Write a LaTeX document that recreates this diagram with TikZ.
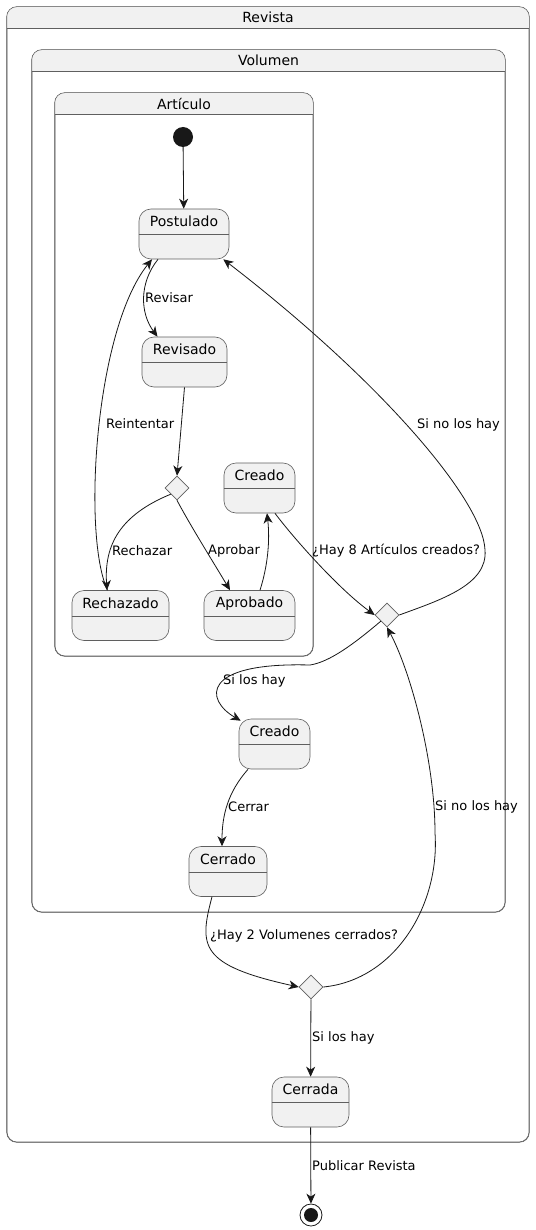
\documentclass[tikz,border=0pt]{standalone}
\usepackage{fontspec}
\setmainfont{DejaVu Sans}
\usepackage{tikz}
\usetikzlibrary{arrows.meta, positioning, shapes.geometric}
\definecolor{boxfill}{RGB}{241,241,241}
\definecolor{ink}{RGB}{24,24,24}
\definecolor{frame}{RGB}{95,95,95}
\tikzstyle{state}   = [rectangle, rounded corners=12pt, draw=frame, line width=0.6pt, fill=boxfill,
                       minimum height=50pt, inner sep=0pt]
\tikzstyle{sttitle} = [inner sep=0pt, font=\fontsize{14}{16}\selectfont]
\tikzstyle{stline}  = [draw=frame, line width=0.6pt]
\tikzstyle{comp}    = [rectangle, rounded corners=10pt, draw=frame, line width=0.6pt, fill=white, inner sep=0pt]
\tikzstyle{choice}  = [diamond, draw=frame, line width=0.6pt, fill=boxfill, minimum width=24pt,
                       minimum height=24pt, inner sep=0pt]
\tikzstyle{startst} = [circle, fill=ink, minimum size=20pt, inner sep=0pt]
\tikzstyle{endst}   = [circle, draw=ink, line width=0.8pt, fill=white, minimum size=22pt, inner sep=0pt,
                       path picture={\fill[ink] (path picture bounding box.center) circle (7pt);}]
\tikzstyle{lbl}     = [inner sep=1pt, font=\fontsize{13}{15}\selectfont]
\tikzstyle{arr}     = [-{Stealth[length=10pt, width=9pt, inset=3pt]}, line width=0.8pt, draw=ink]

% state box with title and empty lower part
\newcommand{\statenode}[4]{%
  \node[state, minimum width=#3] (#1) at (#2) {};
  \node[sttitle] (#1t) at ([yshift=-13pt]#1.north) {#4};
  \draw[stline] ([yshift=-26pt]#1.north west) -- ([yshift=-26pt]#1.north east);}

% composite state with grey header
\newcommand{\compnode}[5]{%
  \node[comp, minimum width=#3, minimum height=#4] (#1) at (#2) {};
  \begin{scope}
    \clip ([yshift=-22pt]#1.north west) rectangle ([yshift=2pt]#1.north east);
    \fill[boxfill, rounded corners=10pt] (#1.south west) rectangle (#1.north east);
  \end{scope}
  \draw[frame, line width=0.6pt, rounded corners=10pt] (#1.south west) rectangle (#1.north east);
  \draw[stline] ([yshift=-22pt]#1.north west) -- ([yshift=-22pt]#1.north east);
  \node[sttitle] (#1t) at ([yshift=-11pt]#1.north) {#5};}

\begin{document}
\begin{tikzpicture}[x=1pt, y=-1pt]
  \useasboundingbox (0,0) rectangle (535,1230);

  \compnode{revista}{268,574.5}{522pt}{1135pt}{Revista}
  \compnode{volumen}{268.5,481}{473pt}{862pt}{Volumen}
  \compnode{articulo}{184,374.5}{258pt}{563pt}{Artículo}

  \node[startst] (ini) at (183,137) {};
  \statenode{postulado}{184,234}{90pt}{Postulado}
  \statenode{revisado}{184.5,362}{85pt}{Revisado}
  \node[choice] (d1) at (177,488) {};
  \statenode{creado}{259.5,488}{71pt}{Creado}
  \statenode{rechazado}{120.5,615.5}{97pt}{Rechazado}
  \statenode{aprobado}{249.5,615.5}{91pt}{Aprobado}
  \node[choice] (d2) at (387,615) {};
  \statenode{creadoV}{274.5,744}{71pt}{Creado}
  \statenode{cerrado}{228,871.5}{78pt}{Cerrado}
  \node[choice] (d3) at (311,987) {};
  \statenode{cerrada}{310.5,1102}{77pt}{Cerrada}
  \node[endst] (fin) at (311,1215) {};

  % Artículo
  \draw[arr] (ini) -- (postulado);
  \draw[arr] ([xshift=-26pt]postulado.south) .. controls (139,283) and (140,313) .. ([xshift=-27pt]revisado.north);
  \node[lbl, anchor=west] (lrevisar) at (144,298) {Revisar};
  \draw[arr] ([xshift=-13pt]rechazado.north) .. controls (82,535) and (95,330) .. ([xshift=-32pt]postulado.south);
  \node[lbl, anchor=west] (lreint) at (105,424) {Reintentar};
  \draw[arr] (revisado.south) -- (d1.north);
  \draw[arr] (d1.south west) .. controls (120,515) and (104,545) .. ([xshift=-13.5pt]rechazado.north);
  \node[lbl, anchor=west] (lrech) at (111,551) {Rechazar};
  \draw[arr] (d1.south) .. controls (190,525) and (215,565) .. ([xshift=-19.5pt]aprobado.north);
  \node[lbl, anchor=west] (laprob) at (207,551) {Aprobar};
  \draw[arr] ([xshift=10.5pt]aprobado.north) .. controls (268,565) and (270,540) .. ([xshift=7.5pt]creado.south);

  % Volumen
  \draw[arr] ([xshift=15.5pt]creado.south) .. controls (295,540) and (340,590) .. (d2.west);
  \node[lbl, anchor=west] (lhay8) at (311,551) {¿Hay 8 Artículos creados?};
  \draw[arr] (d2.east) .. controls (440,600) and (488,585) .. (485,550)
                       .. controls (483,500) and (380,380) .. ([xshift=-6pt]postulado.south east);
  \node[lbl, anchor=west] (lsino1) at (416,425) {Si no los hay};
  \draw[arr] (d2.south west) .. controls (355,643) and (330,662) .. (310,665)
                             .. controls (200,662) and (205,700) .. ([xshift=2pt,yshift=-2pt]creadoV.north west);
  \node[lbl, anchor=west] (lsi1) at (222,681) {Si los hay};
  \draw[arr] ([xshift=-26.5pt]creadoV.south) .. controls (228,792) and (222,815) .. ([xshift=-6pt]cerrado.north);
  \node[lbl, anchor=west] (lcerrar) at (227,807) {Cerrar};

  % Revista
  \draw[arr] ([xshift=-16pt]cerrado.south) .. controls (199,946) and (199,965) .. (d3.west);
  \node[lbl, anchor=west] (lhay2) at (209,936) {¿Hay 2 Volumenes cerrados?};
  \draw[arr] (d3.east) .. controls (395,980) and (440,905) .. (435,833)
                       .. controls (435,760) and (410,670) .. (d2.south);
  \node[lbl, anchor=west] (lsino2) at (434,807) {Si no los hay};
  \draw[arr] (d3) -- node[lbl, right] (lsi2) {Si los hay} (cerrada);
  \draw[arr] (cerrada) -- node[lbl, right] (lpub) {Publicar Revista} (fin);
\end{tikzpicture}
\end{document}
